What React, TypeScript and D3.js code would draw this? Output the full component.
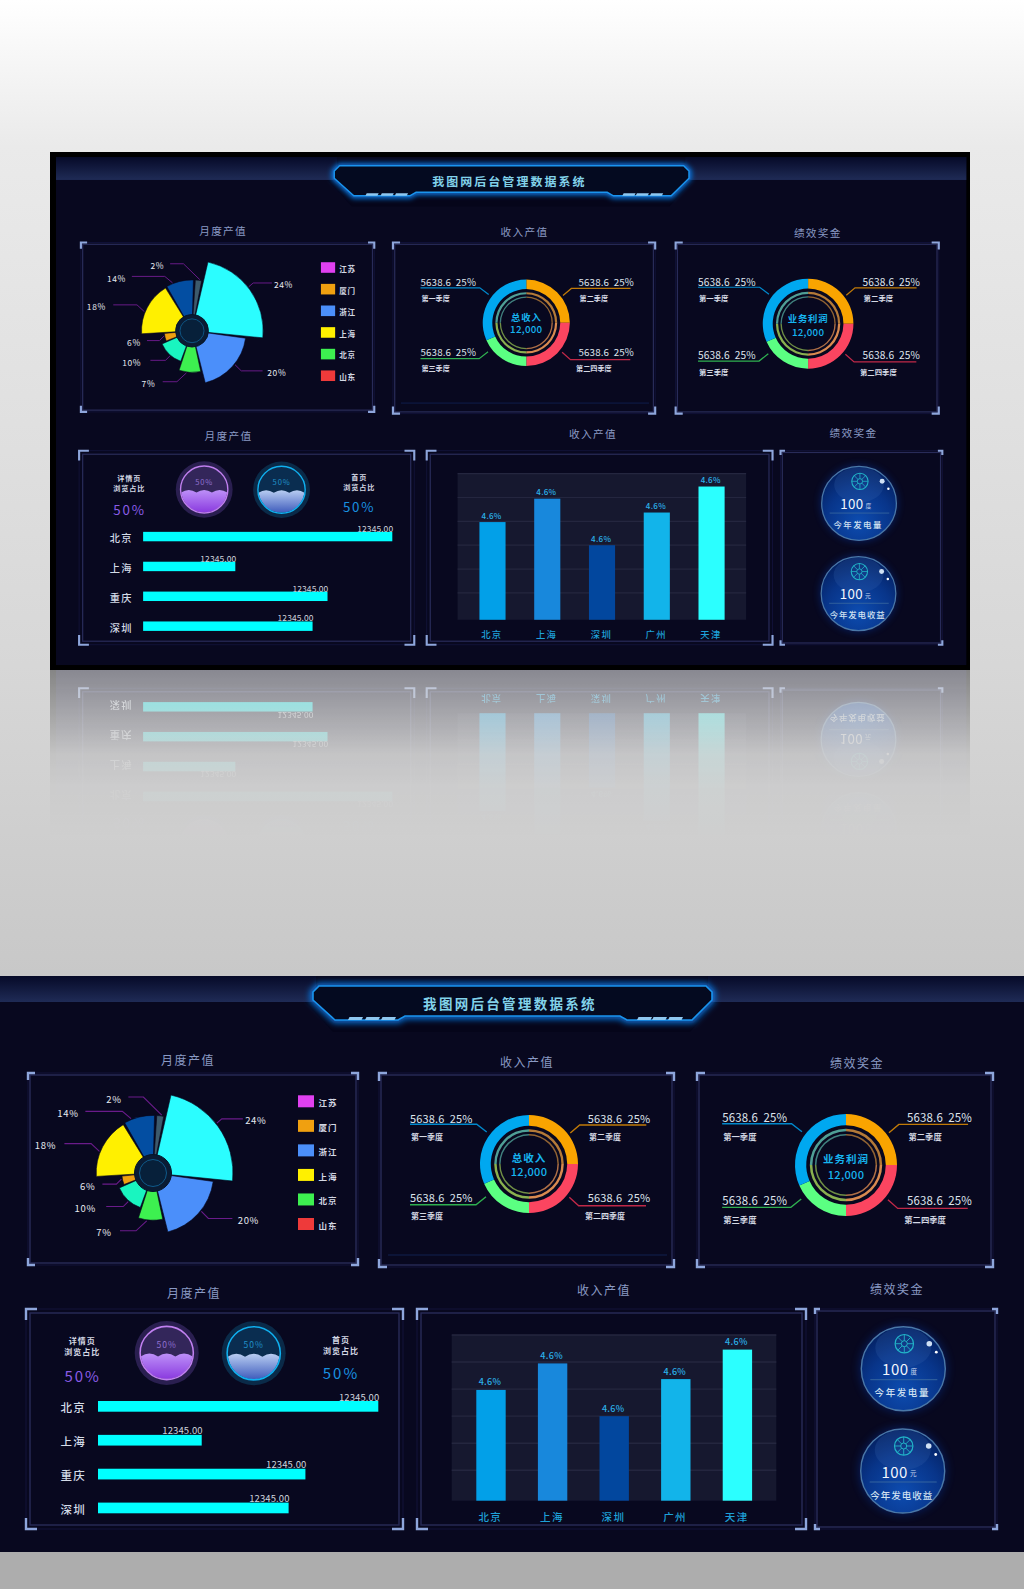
import React from "react";
import * as d3 from "d3";

const FONT = '"Noto Sans CJK SC", "Noto Sans", sans-serif';

// rose chart, clockwise from the cyan sector
const roseLabels = ["24%", "20%", "7%", "10%", "6%", "18%", "14%", "2%"];
const roseSweep = [83, 68, 30, 46, 16, 62, 31, 7];
const roseRadius = [100, 76, 59, 46, 39, 71, 72, 72];
const roseColors = ["#2bfdff", "#4b8ffa", "#3df050", "#19f5c0", "#f0a010", "#fff000", "#034ea2", "#3d5a6c"];
// leader: touch angle, elbow offset, horizontal run, label gap
const roseLeaders = [
  [52, 5, -4.3, 21, 13],
  [128.5, 7, 7, 24, 16],
  [187.5, -10.7, 10, -16, -16],
  [221, -5, 5, -17, -21],
  [259, -5, 5, -14, -14.7],
  [292, -8.3, -7.7, -26.7, -19],
  [338, -8.7, -7.3, -37, -17.3],
  [8.6, -18.4, -18, -15, -14.3],
];

const legendNames = ["江苏", "厦门", "浙江", "上海", "北京", "山东"];
const legendColors = ["#e040f0", "#f0a010", "#4b8ffa", "#fff000", "#3df050", "#ee3a3a"];

// donuts: orange, red, green, blue
const donutShares = [90, 90, 66, 114];
const donutColors = ["#f9a400", "#fb4560", "#5bff82", "#00a8f0"];
const donutLines = ["#c07a08", "#c02848", "#2fb050", "#0088cc"];
const ringColors = ["#b47a38", "#d98a50", "#8ab04f", "#4f9f96"];
const quarterValue = "5638.6  25%";
const quarterNames = ["第二季度", "第二四季度", "第三季度", "第一季度"];

const hbarCities = ["北京", "上海", "重庆", "深圳"];
const hbarValues = [100, 37, 74, 68];
const hbarLabel = "12345.00";

const vbarCities = ["北京", "上海", "深圳", "广州", "天津"];
const vbarValues = [39.7, 49.5, 30, 43.7, 54.6];
const vbarColors = ["#02a0e8", "#1888dc", "#02479e", "#12b4ea", "#2bffff"];
const vbarLabel = "4.6%";

const rad = (deg: number) => (deg * Math.PI) / 180;
const polar = (deg: number, r: number) => [r * Math.sin(rad(deg)), -r * Math.cos(rad(deg))];

const Txt = ({ x, y, size, fill, children, weight = 400, ls = 0, anchor = "middle" }: any) => (
  <text
    x={x}
    y={y}
    fontSize={size}
    fill={fill}
    fontWeight={weight}
    letterSpacing={ls}
    textAnchor={anchor}
    dominantBaseline="central"
    fontFamily={FONT}
    style={{ whiteSpace: "pre" }}
  >
    {children}
  </text>
);

const Panel = ({ x0, y0, x1, y1, arm, inset }: any) => {
  const corners = [
    [x0, y0, 1, 1],
    [x1, y0, -1, 1],
    [x0, y1, 1, -1],
    [x1, y1, -1, -1],
  ];
  return (
    <g fill="none">
      <rect x={x0 + 1} y={y0 + 1} width={x1 - x0 - 2} height={y1 - y0 - 2} stroke="#12133a" />
      <rect x={x0 + inset} y={y0 + inset} width={x1 - x0 - inset * 2} height={y1 - y0 - inset * 2} stroke="#282b58" strokeWidth={1.4} />
      {corners.map(([x, y, sx, sy], i) => (
        <path key={i} d={`M${x + sx * arm},${y + sy}H${x + sx}V${y + sy * arm}`} stroke="#8ea6dc" strokeWidth={2.4} />
      ))}
    </g>
  );
};

const Rose = ({ cx, cy }: any) => {
  const r = d3.scaleLinear().domain([0, 100]).range([0, 80]);
  const slices = d3
    .pie<number>()
    .sort(null)
    .value((d) => d)
    .startAngle(rad(13))
    .endAngle(rad(373))
    .padAngle(rad(2.25))(roseSweep);
  const arc = d3.arc<any>();
  return (
    <g transform={`translate(${cx},${cy})`}>
      {slices.map((s, i) => (
        <path
          key={i}
          fill={roseColors[i]}
          stroke="#05061c"
          strokeWidth={0.6}
          d={arc({ innerRadius: 0, outerRadius: r(roseRadius[i]), startAngle: s.startAngle, endAngle: s.endAngle - s.padAngle }) as string}
        />
      ))}
      {roseLeaders.map(([a, dx, dy, run, gap], i) => {
        const [px, py] = polar(a, r(roseRadius[i]) + 1);
        const ex = px + dx;
        const ey = py + dy;
        return (
          <g key={i}>
            <path d={`M${px},${py}L${ex},${ey}H${ex + run}`} fill="none" stroke="#6a1b8a" strokeWidth={1.1} />
            <Txt x={ex + run + gap} y={ey + 1.5} size={9.5} fill="#e6e8f0" ls={0.7}>
              {roseLabels[i]}
            </Txt>
          </g>
        );
      })}
      <circle r={18.5} fill="#0a1c34" stroke="#061428" strokeWidth={1} />
      <circle r={13.5} fill="#07203a" stroke="#0f5a8a" strokeWidth={1} />
    </g>
  );
};

const Legend = () => {
  const y = d3.scalePoint().domain(legendNames).range([125.3, 248]);
  return (
    <g>
      {legendNames.map((n, i) => (
        <g key={n}>
          <rect x={298} y={(y(n) as number) - 6} width={16} height={12} fill={legendColors[i]} />
          <Txt x={328} y={(y(n) as number) + 1} size={8.5} fill="#d4d8e4" weight={700} ls={1}>
            {n}
          </Txt>
        </g>
      ))}
    </g>
  );
};

// label layout per slice, measured on a radius of 49
const donutLayout = [
  { tx: 58.7, ty: -46.3, x0: 117.3, ux: 50.7, uy: -39, dx: 41.3, dy: -31, sx: 76, sy: -28 },
  { tx: 58.7, ty: 33.3, x0: 117, ux: 49.7, uy: 41.7, dx: 40.3, dy: 33.3, sx: 76, sy: 51.7 },
  { tx: -119, ty: 33.3, x0: -119, ux: -53, uy: 40.7, dx: -43, dy: 32.7, sx: -102, sy: 51.7 },
  { tx: -119, ty: -46.3, x0: -119, ux: -52.3, uy: -39.7, dx: -42.3, dy: -32, sx: -102, sy: -28 },
];

const Donut = ({ cx, cy, R, title, titleY, valueY }: any) => {
  const k = R / 49;
  const pie = d3.pie<number>().sort(null).value((d) => d).padAngle(rad(1));
  const slices = pie(donutShares);
  const rings = pie([1, 1, 1, 1]);
  const arc = d3.arc<any>();
  const seg = (s: any, inner: number, outer: number) =>
    arc({ innerRadius: inner, outerRadius: outer, startAngle: s.startAngle, endAngle: s.endAngle }) as string;
  return (
    <g transform={`translate(${cx},${cy})`}>
      {slices.map((s, i) => (
        <path key={i} d={seg(s, R * 0.78, R)} fill={donutColors[i]} />
      ))}
      {rings.map((s, i) => (
        <g key={i} fill={ringColors[i]}>
          <path d={seg(s, R * 0.66, R * 0.71)} />
          <path d={seg(s, R * 0.58, R * 0.61)} opacity={0.8} />
        </g>
      ))}
      {donutLayout.map((l, i) => (
        <g key={i}>
          <path
            d={`M${l.x0 * k},${l.uy * k}H${l.ux * k}L${l.dx * k},${l.dy * k}`}
            fill="none"
            stroke={donutLines[i]}
            strokeWidth={1.4}
          />
          <Txt x={l.tx * k} y={l.ty * k} size={11 * k} fill="#dfe4ec" anchor="start" ls={0.15}>
            {quarterValue}
          </Txt>
          <Txt x={l.sx * k} y={l.sy * k} size={8 * k} fill="#d4d8e4" weight={700}>
            {quarterNames[i]}
          </Txt>
        </g>
      ))}
      <Txt x={0} y={titleY} size={10.5} fill="#16b4f0" weight={700} ls={1}>
        {title}
      </Txt>
      <Txt x={0} y={valueY} size={11} fill="#16b4f0" weight={500} ls={0.3}>
        12,000
      </Txt>
    </g>
  );
};

const scallops = (R: number, y0: number) => {
  const p = d3.path();
  const w = (2 * R) / 3;
  p.moveTo(-R, y0);
  d3.range(3).forEach((i) => {
    p.quadraticCurveTo(-R + w * (i + 0.5), y0 - 6, -R + w * (i + 1), y0);
  });
  p.lineTo(R, R);
  p.lineTo(-R, R);
  p.closePath();
  return p.toString();
};

const WaterRing = ({ cx, cy, halo, ring, top, water, label }: any) => (
  <g transform={`translate(${cx},${cy})`}>
    <circle r={32} fill={halo} />
    <circle r={27} fill="#08081f" />
    <circle r={26} fill={top} />
    <path d={scallops(26, 3.5)} fill={`url(#${water})`} clipPath="url(#ringClip)" />
    <circle r={26.6} fill="none" stroke={ring} strokeWidth={1.6} />
    <Txt x={0} y={-9} size={8.5} fill={label} ls={1}>
      50%
    </Txt>
  </g>
);

const Bubble = ({ cx, cy, unit, name, ls }: any) => (
  <g transform={`translate(${cx},${cy})`}>
    <circle r={44} fill="#0a3fc0" opacity={0.35} filter="url(#bubbleGlow)" />
    <circle r={42} fill="url(#bubbleFill)" stroke="#4a78a8" strokeWidth={1.4} />
    <ellipse cx={0} cy={-21} rx={28} ry={20} fill="#3a6ab0" opacity={0.22} />
    <g transform="translate(1,-25)" fill="none" stroke="#22b4c8">
      <circle r={9.2} strokeWidth={1.2} />
      <circle r={3} strokeWidth={1} />
      {d3.range(8).map((i) => {
        const [x0, y0] = polar(i * 45, 3);
        const [x1, y1] = polar(i * 45, 9);
        return <line key={i} x1={x0} y1={y0} x2={x1} y2={y1} strokeWidth={0.9} />;
      })}
    </g>
    <circle cx={26} cy={-25} r={2.8} fill="#cfe0f4" />
    <circle cx={33} cy={-16.5} r={1.4} fill="#ffffff" />
    <Txt x={-8} y={0} size={15} fill="#f2f6fc" ls={0.5}>
      100
    </Txt>
    <Txt x={10.5} y={2} size={6.5} fill="#c8d8ee">
      {unit}
    </Txt>
    <line x1={-33} x2={34} y1={11} y2={11} stroke="#3a6aa0" strokeWidth={0.9} />
    <Txt x={-1} y={23.5} size={9.5} fill="#cfe0f0" weight={500} ls={ls}>
      {name}
    </Txt>
  </g>
);

const HBars = () => {
  const x = d3.scaleLinear().domain([0, 100]).range([98, 378.3]);
  const y = d3.scaleBand().domain(hbarCities).range([425, 537.3]).paddingInner(0.684);
  return (
    <g>
      {hbarCities.map((c, i) => {
        const top = y(c) as number;
        return (
          <g key={c}>
            <Txt x={73.3} y={top + y.bandwidth() / 2 + 1} size={11.5} fill="#d4dce8" weight={500} ls={1.2}>
              {c}
            </Txt>
            <rect x={x(0)} y={top} width={x(hbarValues[i]) - x(0)} height={y.bandwidth()} fill="#00ffff" />
            <Txt x={x(hbarValues[i]) + 1} y={top - 4.5} size={9.5} fill="#cfd4dc" anchor="end" ls={0.1}>
              {hbarLabel}
            </Txt>
          </g>
        );
      })}
    </g>
  );
};

const VBars = () => {
  const bottom = 524.7;
  const x = d3.scaleBand().domain(vbarCities).range([476.3, 752.1]).paddingInner(0.523);
  const y = d3.scaleLinear().domain([-1.25, 60]).range([bottom, 359]);
  return (
    <g>
      <rect x={451.7} y={359} width={324.6} height={bottom - 359} fill="#16182f" />
      {y.ticks(6).filter((t) => t > 0).map((t) => (
        <line key={t} x1={451.7} x2={776.3} y1={y(t)} y2={y(t)} stroke="#24263f" strokeWidth={1.4} />
      ))}
      {vbarCities.map((c, i) => {
        const bx = x(c) as number;
        const top = y(vbarValues[i]);
        return (
          <g key={c}>
            <rect x={bx} y={top} width={x.bandwidth()} height={bottom - top} fill={vbarColors[i]} />
            <Txt x={bx + x.bandwidth() / 2 - 1} y={top - 8} size={9} fill="#2cb0e8" weight={500} ls={0.3}>
              {vbarLabel}
            </Txt>
            <Txt x={bx + x.bandwidth() / 2 - 0.7} y={540.7} size={10.5} fill="#1ea0d8" weight={500} ls={1.4}>
              {c}
            </Txt>
          </g>
        );
      })}
    </g>
  );
};

const Header = () => {
  const frame = "M319,10H706L712,16V24L692,44H627L620,40H405L398,44H335L313,24V16Z";
  return (
    <g>
      <rect x={0} y={0} width={316} height={26} fill="url(#band)" />
      <rect x={708} y={0} width={316} height={26} fill="url(#band)" />
      <path d="M305,26L333,56H690L717,26Z" fill="#05051a" />
      <path d={frame} fill="none" stroke="#0a7ae8" strokeWidth={6} filter="url(#titleGlow)" />
      <path d={frame} fill="#040a20" stroke="#1a94ee" strokeWidth={1.6} />
      {[348, 365, 381, 637, 652, 668].map((x) => (
        <path key={x} d={`M${x + 1.5},41H${x + 15}L${x + 13.5},44H${x}Z`} fill="#8fc8f0" />
      ))}
      <Txt x={510} y={27} size={13.5} fill="#82d2ea" weight={700} ls={2.3}>
        我图网后台管理数据系统
      </Txt>
    </g>
  );
};

const UpperRow = () => (
  <g>
    <Header />

    <Txt x={188} y={83} size={12} fill="#8a9ac4" ls={1.5}>月度产值</Txt>
    <Txt x={527} y={85} size={12} fill="#8a9ac4" ls={1.5}>收入产值</Txt>
    <Txt x={857} y={86} size={12} fill="#8a9ac4" ls={1.5}>绩效奖金</Txt>

    <Panel x0={27} y0={96} x1={359} y1={290} arm={8} inset={3} />
    <Panel x0={378} y0={96} x1={675} y1={292} arm={9} inset={3} />
    <line x1={388} x2={667} y1={279} y2={279} stroke="#102050" />
    <Panel x0={696} y0={96} x1={994} y1={292} arm={9} inset={3} />

    <Rose cx={153} cy={197} />
    <Legend />
    <Donut cx={529} cy={188} R={49} title="总收入" titleY={-7} valueY={7} />
    <Donut cx={846} cy={189} R={51} title="业务利润" titleY={-7} valueY={9} />
  </g>
);

const LowerRow = () => (
  <g>
    <Txt x={194} y={316} size={12} fill="#8a9ac4" ls={1.5}>月度产值</Txt>
    <Txt x={604} y={313} size={12} fill="#8a9ac4" ls={1.5}>收入产值</Txt>
    <Txt x={897} y={312} size={12} fill="#8a9ac4" ls={1.5}>绩效奖金</Txt>

    <Panel x0={25} y0={332} x1={404} y1={554} arm={12} inset={5} />
    <Panel x0={416} y0={332} x1={807} y1={554} arm={12} inset={5} />
    <Panel x0={814} y0={332} x1={998} y1={554} arm={6} inset={3} />

    <Txt x={82.3} y={364} size={8} fill="#d4d8e4" weight={700} ls={1}>详情页</Txt>
    <Txt x={82.3} y={375.7} size={8} fill="#d4d8e4" weight={700} ls={1}>浏览占比</Txt>
    <Txt x={82.7} y={399.7} size={15} fill="#8a5ce6" ls={2}>50%</Txt>
    <Txt x={341} y={363.3} size={8} fill="#d4d8e4" weight={700} ls={1}>首页</Txt>
    <Txt x={341} y={374} size={8} fill="#d4d8e4" weight={700} ls={1}>浏览占比</Txt>
    <Txt x={341} y={396.7} size={15} fill="#1890e0" ls={2}>50%</Txt>
    <WaterRing cx={166.7} cy={377} halo="#2a1f50" ring="#c080f0" top="#33265a" water="waterPurple" label="#9070d0" />
    <WaterRing cx={253.7} cy={377.3} halo="#0a2a48" ring="#10b0f0" top="#0a2d50" water="waterBlue" label="#2090c8" />
    <HBars />

    <VBars />

    <Bubble cx={903.3} cy={392.7} unit="度" name="今年发电量" ls={1.6} />
    <Bubble cx={902.7} cy={495} unit="元" name="今年发电收益" ls={1} />
  </g>
);

const Dashboard = () => (
  <g>
    <rect x={0} y={0} width={1024} height={576} fill="#08081f" />
    <UpperRow />
    <LowerRow />
  </g>
);

export default function App() {
  const mockup = "translate(56,157) scale(0.889,0.882)";
  return (
    <svg width={1024} height={1589} style={{ position: "absolute", left: 0, top: 0, display: "block" }}>
      <defs>
        <linearGradient id="page" x1="0" y1="0" x2="0" y2="1">
          <stop offset="0" stopColor="#ffffff" />
          <stop offset="0.15" stopColor="#eaeaea" />
          <stop offset="0.66" stopColor="#d8d8d8" />
          <stop offset="1" stopColor="#c8c8c8" />
        </linearGradient>
        <linearGradient id="band" x1="0" y1="0" x2="0" y2="1">
          <stop offset="0" stopColor="#060a28" />
          <stop offset="1" stopColor="#1f2b56" />
        </linearGradient>
        <linearGradient id="waterPurple" x1="0" y1="0" x2="0" y2="1">
          <stop offset="0" stopColor="#bd90f8" />
          <stop offset="1" stopColor="#8a3adf" />
        </linearGradient>
        <linearGradient id="waterBlue" x1="0" y1="0" x2="0" y2="1">
          <stop offset="0" stopColor="#b8cdf2" />
          <stop offset="1" stopColor="#3f5cbc" />
        </linearGradient>
        <radialGradient id="bubbleFill" cx="0.5" cy="0.75" r="0.8">
          <stop offset="0" stopColor="#0d4cb0" />
          <stop offset="0.55" stopColor="#08358a" />
          <stop offset="1" stopColor="#031c58" />
        </radialGradient>
        <linearGradient id="reflect" gradientUnits="userSpaceOnUse" x1="0" y1="670" x2="0" y2="840">
          <stop offset="0" stopColor="#fff" stopOpacity={0.38} />
          <stop offset="0.3" stopColor="#fff" stopOpacity={0.2} />
          <stop offset="0.5" stopColor="#fff" stopOpacity={0.07} />
          <stop offset="0.7" stopColor="#fff" stopOpacity={0.02} />
          <stop offset="1" stopColor="#fff" stopOpacity={0} />
        </linearGradient>
        <mask id="reflectMask" maskUnits="userSpaceOnUse" x={0} y={670} width={1024} height={170}>
          <rect x={0} y={670} width={1024} height={170} fill="url(#reflect)" />
        </mask>
        <clipPath id="ringClip">
          <circle r={26} />
        </clipPath>
        <filter id="titleGlow" x="-10%" y="-50%" width="120%" height="200%">
          <feGaussianBlur stdDeviation={3} />
        </filter>
        <filter id="bubbleGlow" x="-30%" y="-30%" width="160%" height="160%">
          <feGaussianBlur stdDeviation={4} />
        </filter>
      </defs>

      <rect x={0} y={0} width={1024} height={976} fill="url(#page)" />
      <rect x={0} y={1552} width={1024} height={37} fill="#adadad" />

      {/* framed mockup */}
      <rect x={50} y={152} width={920} height={518} fill="#000000" />
      <g transform={mockup}>
        <Dashboard />
      </g>

      {/* its reflection on the floor, only the lower row ever shows */}
      <g mask="url(#reflectMask)">
        <g transform="translate(0,1333) scale(1,-1)">
          <rect x={50} y={152} width={920} height={518} fill="#000000" />
          <g transform={mockup}>
            <rect x={0} y={0} width={1024} height={576} fill="#08081f" />
            <LowerRow />
          </g>
        </g>
      </g>

      {/* full size view */}
      <g transform="translate(0,976)">
        <Dashboard />
      </g>
    </svg>
  );
}
